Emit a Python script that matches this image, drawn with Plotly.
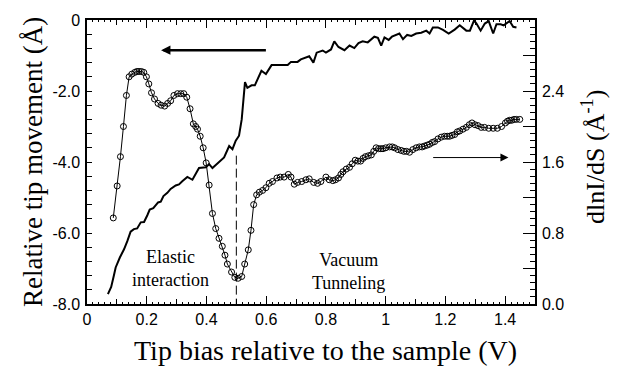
import plotly.graph_objects as go

# ---- data ----
# Relative tip movement (left axis, Angstrom) vs tip bias (V)
tip_bias = [0.070, 0.081, 0.090, 0.096, 0.110, 0.124, 0.135, 0.146, 0.157, 0.168,
            0.180, 0.191, 0.202, 0.210, 0.222, 0.230, 0.238, 0.247, 0.256, 0.269,
            0.280, 0.297, 0.308, 0.319, 0.336, 0.353, 0.375, 0.398, 0.409, 0.420,
            0.442, 0.459, 0.476, 0.487, 0.498, 0.509, 0.518, 0.529, 0.537, 0.551,
            0.562, 0.573, 0.584, 0.599, 0.618, 0.672, 0.683, 0.705, 0.716, 0.744,
            0.758, 0.769, 0.789, 0.800, 0.817, 0.828, 0.842, 0.862, 0.879, 0.895,
            0.909, 0.923, 0.940, 0.962, 0.974, 0.985, 0.996, 1.010, 1.021, 1.046,
            1.058, 1.072, 1.086, 1.102, 1.119, 1.136, 1.147, 1.158, 1.175, 1.192,
            1.211, 1.231, 1.248, 1.270, 1.282, 1.296, 1.304, 1.318, 1.332, 1.345,
            1.360, 1.371, 1.385, 1.395, 1.415, 1.427, 1.438]
tip_move = [-7.72, -7.52, -7.20, -6.97, -6.69, -6.46, -6.23, -5.96, -5.89, -5.87,
            -5.70, -5.69, -5.50, -5.34, -5.30, -5.23, -5.14, -5.12, -4.96, -4.87,
            -4.76, -4.66, -4.63, -4.54, -4.42, -4.50, -4.17, -4.15, -4.06, -4.17,
            -4.00, -3.87, -3.55, -3.64, -3.40, -3.26, -2.80, -1.75, -1.91, -1.84,
            -1.84, -1.64, -1.43, -1.52, -1.27, -1.27, -1.18, -1.18, -1.11, -1.02,
            -1.20, -0.92, -0.86, -0.92, -0.83, -0.60, -0.76, -0.85, -0.72, -0.79,
            -0.65, -0.60, -0.63, -0.47, -0.50, -0.72, -0.49, -0.56, -0.47, -0.38,
            -0.54, -0.42, -0.45, -0.38, -0.36, -0.30, -0.38, -0.21, -0.21, -0.28,
            -0.38, -0.27, -0.15, -0.30, -0.30, -0.01, -0.10, -0.30, -0.10, -0.03,
            -0.38, -0.12, -0.12, -0.15, -0.03, -0.19, -0.21]

# dlnI/dS (right axis, 1/Angstrom) vs tip bias (V)
dlnI_bias = [0.088, 0.101, 0.112, 0.122, 0.132, 0.141, 0.150, 0.160, 0.167, 0.174,
             0.182, 0.190, 0.199, 0.207, 0.216, 0.226, 0.238, 0.248, 0.260, 0.270,
             0.280, 0.291, 0.303, 0.314, 0.324, 0.334, 0.345, 0.356, 0.364, 0.370,
             0.379, 0.389, 0.399, 0.409, 0.420, 0.431, 0.442, 0.453, 0.462, 0.470,
             0.484, 0.495, 0.506, 0.518, 0.528, 0.540, 0.549, 0.558, 0.568, 0.577,
             0.588, 0.599, 0.610, 0.621, 0.636, 0.647, 0.660, 0.674, 0.683, 0.694,
             0.705, 0.719, 0.733, 0.744, 0.759, 0.772, 0.783, 0.800, 0.811, 0.823,
             0.832, 0.842, 0.850, 0.857, 0.868, 0.879, 0.888, 0.898, 0.907, 0.916,
             0.924, 0.932, 0.942, 0.952, 0.960, 0.968, 0.976, 0.984, 0.991, 1.000,
             1.013, 1.022, 1.030, 1.041, 1.052, 1.061, 1.070, 1.080, 1.091, 1.102,
             1.113, 1.122, 1.130, 1.139, 1.147, 1.156, 1.164, 1.175, 1.186, 1.197,
             1.206, 1.214, 1.222, 1.231, 1.240, 1.248, 1.259, 1.270, 1.280, 1.289,
             1.299, 1.309, 1.320, 1.331, 1.345, 1.360, 1.374, 1.388, 1.401, 1.408,
             1.415, 1.422, 1.430, 1.438, 1.449]
dlnI_dS = [0.97, 1.33, 1.66, 2.00, 2.35, 2.56, 2.59, 2.61, 2.62, 2.62,
           2.62, 2.61, 2.56, 2.48, 2.38, 2.31, 2.26, 2.24, 2.23, 2.26,
           2.29, 2.35, 2.37, 2.37, 2.37, 2.33, 2.20, 2.03, 2.00, 1.97,
           1.89, 1.76, 1.59, 1.34, 1.02, 0.85, 0.74, 0.65, 0.55, 0.45,
           0.36, 0.30, 0.29, 0.31, 0.45, 0.61, 0.83, 1.12, 1.23, 1.26,
           1.28, 1.31, 1.36, 1.38, 1.42, 1.43, 1.43, 1.46, 1.43, 1.35,
           1.37, 1.38, 1.40, 1.41, 1.37, 1.36, 1.38, 1.43, 1.40, 1.39,
           1.40, 1.42, 1.46, 1.49, 1.52, 1.54, 1.58, 1.62, 1.61, 1.61,
           1.64, 1.66, 1.67, 1.68, 1.72, 1.76, 1.75, 1.75, 1.75, 1.76,
           1.77, 1.77, 1.76, 1.74, 1.73, 1.72, 1.72, 1.71, 1.74, 1.76,
           1.77, 1.77, 1.78, 1.79, 1.80, 1.82, 1.83, 1.86, 1.88, 1.89,
           1.89, 1.89, 1.90, 1.91, 1.94, 1.95, 1.97, 1.99, 2.02, 2.04,
           2.02, 2.01, 1.99, 1.99, 1.98, 1.98, 1.98, 2.00, 2.04, 2.06,
           2.07, 2.07, 2.08, 2.08, 2.08]

x_ticks = [0, 0.2, 0.4, 0.6, 0.8, 1.0, 1.2, 1.4]
x_ticktext = ["0", "0.2", "0.4", "0.6", "0.8", "1", "1.2", "1.4"]
y_ticks = [0, -2, -4, -6, -8]
y_ticktext = ["0", "-2.0", "-4.0", "-6.0", "-8.0"]
y2_ticks = [0, 0.4, 0.8, 1.2, 1.6, 2.0, 2.4, 2.8, 3.2]
y2_ticktext = ["0.0", "", "0.8", "", "1.6", "", "2.4", "", ""]

SERIF = "Liberation Serif, Times New Roman, serif"
SANS = "Liberation Sans, Arial, Helvetica, sans-serif"

fig = go.Figure()
fig.add_trace(go.Scatter(x=tip_bias, y=tip_move, mode="lines",
                         line=dict(color="black", width=2), yaxis="y",
                         showlegend=False, hoverinfo="skip"))
fig.add_trace(go.Scatter(x=dlnI_bias, y=dlnI_dS, mode="lines+markers",
                         line=dict(color="black", width=1),
                         marker=dict(symbol="circle-open", size=6, color="black",
                                     line=dict(width=1, color="black")),
                         yaxis="y2", showlegend=False, hoverinfo="skip"))
# invisible helper trace so the medium-tick axis (0.1 steps) is drawn
fig.add_trace(go.Scatter(x=[0.1], y=[-9], mode="markers", xaxis="x2",
                         marker=dict(size=1, opacity=0), showlegend=False,
                         hoverinfo="skip"))

minor_x = [round(i * 0.02, 2) for i in range(0, 76)]

fig.update_layout(
    width=621, height=367,
    margin=dict(l=87, r=86, t=13, b=63),
    paper_bgcolor="white", plot_bgcolor="white",
    xaxis=dict(range=[0, 1.5], tickvals=x_ticks, ticktext=x_ticktext,
               ticks="inside", ticklen=8, tickwidth=1, tickcolor="black",
               showline=True, linecolor="black", linewidth=1.5, mirror="ticks",
               showgrid=False, zeroline=False,
               tickfont=dict(family=SANS, size=16, color="black"),
               minor=dict(tickvals=minor_x, ticks="inside", ticklen=2.5,
                          tickwidth=1, tickcolor="black", showgrid=False)),
    xaxis2=dict(range=[0, 1.5], overlaying="x", anchor="y",
                tickvals=[0.1, 0.3, 0.5, 0.7, 0.9, 1.1, 1.3],
                ticks="inside", ticklen=5, tickwidth=1, tickcolor="black",
                showticklabels=False, showline=False, mirror="ticks",
                showgrid=False, zeroline=False),
    yaxis=dict(range=[-8, 0], tickvals=y_ticks, ticktext=y_ticktext,
               ticks="inside", ticklen=5, tickwidth=1, tickcolor="black",
               showline=True, linecolor="black", linewidth=1.5,
               showgrid=False, zeroline=False, ticklabelstandoff=2,
               tickfont=dict(family=SANS, size=16, color="black"),
               minor=dict(dtick=0.4, ticks="inside", ticklen=5, tickwidth=1,
                          tickcolor="black", showgrid=False)),
    yaxis2=dict(range=[0, 3.2], overlaying="y", side="right", anchor="x",
                tickvals=y2_ticks, ticktext=y2_ticktext,
                ticks="inside", ticklen=12, tickwidth=1, tickcolor="black",
                showline=True, linecolor="black", linewidth=1.5,
                showgrid=False, zeroline=False, ticklabelstandoff=2,
                tickfont=dict(family=SANS, size=16, color="black"),
                minor=dict(dtick=0.08, ticks="inside", ticklen=5, tickwidth=1,
                           tickcolor="black", showgrid=False)),
)

annotations = [
    dict(text="Tip bias relative to the sample (V)", xref="paper", yref="paper",
         x=0.5, y=0, xshift=14, yshift=-46, yanchor="middle", showarrow=False,
         font=dict(family=SERIF, size=28, color="black")),
    dict(text="Relative tip movement (Å)", xref="paper", yref="paper",
         x=0, y=0.5, xshift=-54, textangle=-90, xanchor="center", yanchor="middle",
         showarrow=False, font=dict(family=SERIF, size=27, color="black")),
    dict(text="dlnI/dS (Å<sup>-1</sup>)", xref="paper", yref="paper",
         x=1, y=0.5, xshift=58, yshift=5, textangle=-90, xanchor="center",
         yanchor="middle", showarrow=False,
         font=dict(family=SERIF, size=26, color="black")),
    dict(text="Elastic<br>interaction", xref="x", yref="y", x=0.278, y=-7.0,
         showarrow=False, font=dict(family=SERIF, size=18, color="black")),
    dict(text="Vacuum<br>Tunneling", xref="x", yref="y", x=0.877, y=-7.09,
         showarrow=False, font=dict(family=SERIF, size=18, color="black")),
    dict(text="", xref="x", yref="y", axref="x", ayref="y",
         x=0.248, y=-0.85, ax=0.604, ay=-0.85, showarrow=True,
         arrowhead=2, arrowsize=0.75, arrowwidth=2.5, arrowcolor="black"),
    dict(text="", xref="x", yref="y2", axref="x", ayref="y2",
         x=1.411, y=1.65, ax=1.154, ay=1.65, showarrow=True,
         arrowhead=2, arrowsize=1.6, arrowwidth=1, arrowcolor="black"),
]
fig.update_layout(annotations=annotations)

fig.add_shape(type="line", xref="x", yref="y", x0=0.5, x1=0.5, y0=-3.82, y1=-8,
              line=dict(color="black", width=1, dash="9px,4px"))

fig.write_html("out.html")
